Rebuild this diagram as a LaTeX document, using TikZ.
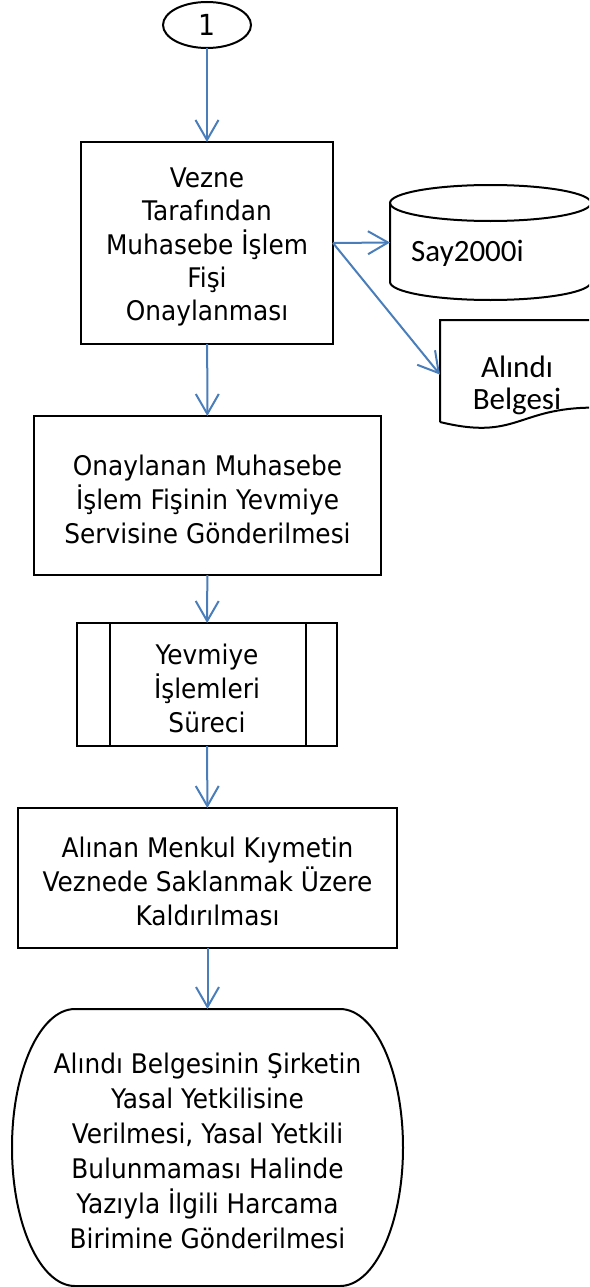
\documentclass[tikz,border=0pt]{standalone}
\usepackage{fontspec}
\setmainfont{DejaVu Sans}[FakeStretch=0.92]
\newfontfamily\calib{Carlito}
\usetikzlibrary{arrows.meta,shapes.geometric}
\definecolor{arrowblue}{RGB}{74,126,187}
\newcommand{\upstrut}{\rule{0pt}{28pt}}
\tikzset{
  boxtext/.style={align=center, inner sep=0pt, outer sep=0pt, font=\fontsize{27}{34}\selectfont},
  procbox/.style={boxtext, draw=black, line width=2pt, rectangle},
  area/.style={rectangle, draw=none, inner sep=0pt, outer sep=0pt},
  outline/.style={draw=black, line width=2pt},
  flow/.style={draw=arrowblue, line width=2pt, -{Straight Barb[length=20pt,width=23pt,line width=2pt]}},
  smalltext/.style={align=center, inner sep=0pt, font=\calib\fontsize{31}{32}\selectfont}
}
\begin{document}
\begin{tikzpicture}[x=1pt,y=-1pt]
\useasboundingbox (0,0) rectangle (589,1287);
\clip (0,0) rectangle (589,1287);

% connector 1
\node[ellipse, outline, boxtext, font=\fontsize{29}{34}\selectfont, minimum width=88pt, minimum height=46pt] (c1) at (207,25) {1};

% box 1
\node[procbox, font=\fontsize{27}{33.3}\selectfont, minimum width=252pt, minimum height=202pt] (b1) at (207,243)
  {\upstrut Vezne\\Tarafından\\Muhasebe İşlem\\Fişi\\Onaylanması};

% cylinder
\node[area, minimum width=201pt, minimum height=115pt] (cyl) at (490.5,242.5) {};
\draw[outline] ([yshift=-18pt]cyl.north) ellipse[x radius=100.5pt, y radius=18pt];
\draw[outline] ([yshift=-18pt]cyl.north west) -- ([yshift=18pt]cyl.south west)
  arc[start angle=180, end angle=360, x radius=100.5pt, y radius=18pt]
  -- ([yshift=-18pt]cyl.north east);
\node[smalltext] (cyltext) at (467.5,253) {Say2000i};

% document
\node[area, minimum width=154pt, minimum height=109.2pt] (doc) at (517,374.6) {};
\draw[outline] (440,422) -- (440,320) -- (594,320) -- (594,407.6)
  .. controls (517,407.6) and (517,440.9) .. (440,422);
\node[smalltext] (doctext) at (517,385) {Alındı\\Belgesi};

% box 2
\node[procbox, minimum width=347pt, minimum height=159pt] (b2) at (207.5,495.5)
  {\upstrut Onaylanan Muhasebe\\İşlem Fişinin Yevmiye\\Servisine Gönderilmesi};

% predefined process
\node[procbox, minimum width=260pt, minimum height=123pt] (p) at (207,684.5)
  {\upstrut Yevmiye\\İşlemleri\\Süreci};
\draw[outline] ([xshift=33pt]p.north west) -- ([xshift=33pt]p.south west);
\draw[outline] ([xshift=-31pt]p.north east) -- ([xshift=-31pt]p.south east);

% box 4
\node[procbox, minimum width=379pt, minimum height=140pt] (b4) at (207.5,878)
  {\upstrut Alınan Menkul Kıymetin\\Veznede Saklanmak Üzere\\Kaldırılması};

% terminator
\node[area, boxtext, font=\fontsize{27}{35}\selectfont, minimum width=391pt, minimum height=277pt] (t) at (207.5,1147.5)
  {\upstrut Alındı Belgesinin Şirketin\\Yasal Yetkilisine\\Verilmesi, Yasal Yetkili\\Bulunmaması Halinde\\Yazıyla İlgili Harcama\\Birimine Gönderilmesi};
\draw[outline] ([xshift=63pt]t.north west) -- ([xshift=-63pt]t.north east)
  arc[start angle=90, end angle=-90, x radius=63pt, y radius=138.5pt]
  -- ([xshift=63pt]t.south west)
  arc[start angle=270, end angle=90, x radius=63pt, y radius=138.5pt] -- cycle;

% connectors
\draw[flow] (c1) -- (b1);
\draw[flow] (b1.east) -- (cyl.west);
\draw[flow] (b1.east) -- (doc.west);
\draw[flow] (b1) -- (b2);
\draw[flow] (b2) -- (p);
\draw[flow] (p) -- (b4);
\draw[flow] (b4) -- (t);
\end{tikzpicture}
\end{document}
